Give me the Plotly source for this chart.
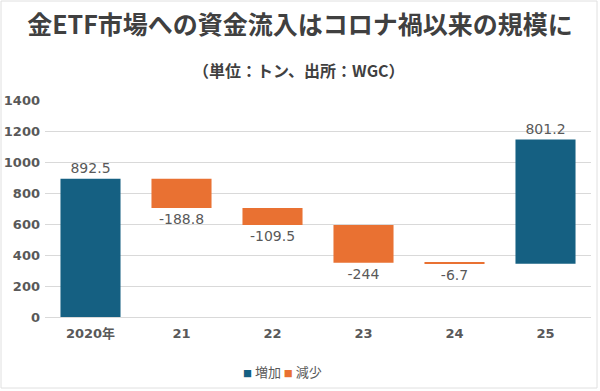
import plotly.graph_objects as go

categories = ["2020年", "21", "22", "23", "24", "25"]
changes = [892.5, -188.8, -109.5, -244, -6.7, 801.2]
labels = ["892.5", "-188.8", "-109.5", "-244", "-6.7", "801.2"]
series_names = ["増加", "減少"]
y_ticks = [0, 200, 400, 600, 800, 1000, 1200, 1400]

BLUE = "#156082"
ORANGE = "#E97132"
GRAY = "#595959"
FONT = "DejaVu Sans, Noto Sans CJK JP, sans-serif"
CJK = "Noto Sans CJK JP, sans-serif"

# compute bases from the running total
bases = []
total = 0.0
for v in changes:
    bases.append(total)
    total += v

inc_idx = [i for i, v in enumerate(changes) if v >= 0]
dec_idx = [i for i, v in enumerate(changes) if v < 0]

fig = go.Figure()
for name, idx, color in [(series_names[0], inc_idx, BLUE), (series_names[1], dec_idx, ORANGE)]:
    fig.add_trace(go.Bar(
        name=name,
        x=[categories[i] for i in idx],
        y=[changes[i] for i in idx],
        base=[bases[i] for i in idx],
        text=[labels[i] for i in idx],
        textposition="outside",
        textfont=dict(size=14, color=GRAY, family=FONT),
        marker=dict(color=color, line=dict(width=0)),
        width=0.66,
        cliponaxis=False,
        constraintext="none",
        showlegend=False,
        hoverinfo="skip",
    ))

L, R, T, B = 45, 9, 100, 74
W, H = 600, 391
pw = W - L - R
ph = H - T - B

legend_text = (
    f"<span style='color:{BLUE};font-size:9px'>■</span> {series_names[0]} "
    f"<span style='color:{ORANGE};font-size:9px'>■</span> {series_names[1]}"
)

fig.update_layout(
    width=W, height=H,
    margin=dict(l=L, r=R, t=T, b=B, autoexpand=False),
    paper_bgcolor="white",
    plot_bgcolor="white",
    barmode="overlay",
    font=dict(family=FONT, color=GRAY),
    title=dict(
        text="<b>金ETF市場への資金流入はコロナ禍以来の規模に</b>",
        x=0.5, xref="container", xanchor="center",
        y=1 - 25 / H, yref="container", yanchor="middle",
        font=dict(size=25, color="#404040", family=CJK),
    ),
    showlegend=False,
    xaxis=dict(
        categoryorder="array", categoryarray=categories,
        tickfont=dict(size=13, color=GRAY, family=FONT, weight="bold"),
        showgrid=False, showline=False, ticks="", ticklabelstandoff=7,
    ),
    yaxis=dict(
        range=[0, 1400], tickvals=y_ticks,
        tickfont=dict(size=13, color=GRAY, family=FONT, weight="bold"),
        showgrid=True, gridcolor="#D9D9D9", gridwidth=1,
        zeroline=True, zerolinecolor="#D9D9D9", zerolinewidth=1,
        showline=False, ticks="", ticklabelstandoff=4,
    ),
    annotations=[
        dict(
            text="<b>（単位：トン、出所：WGC）</b>",
            xref="paper", yref="paper",
            x=(299 - L) / pw, y=(T + ph - 70) / ph,
            xanchor="center", yanchor="middle", showarrow=False,
            font=dict(size=16, color="#404040", family=CJK),
        ),
        dict(
            text=legend_text,
            xref="paper", yref="paper",
            x=(282 - L) / pw, y=-(371 - (T + ph)) / ph,
            xanchor="center", yanchor="middle", showarrow=False,
            font=dict(size=13, color=GRAY, family=CJK),
        ),
    ],
    shapes=[dict(
        type="rect", xref="paper", yref="paper",
        x0=(1 - L) / pw, x1=(597 - L) / pw,
        y0=(T + ph - 388) / ph, y1=(T + ph - 1) / ph,
        line=dict(color="#E0E0E0", width=1), layer="below",
    )],
)

fig.write_html(
    "out.html",
    config={"displayModeBar": False},
    post_script="document.body.style.margin='0';document.body.style.overflow='hidden';",
)
